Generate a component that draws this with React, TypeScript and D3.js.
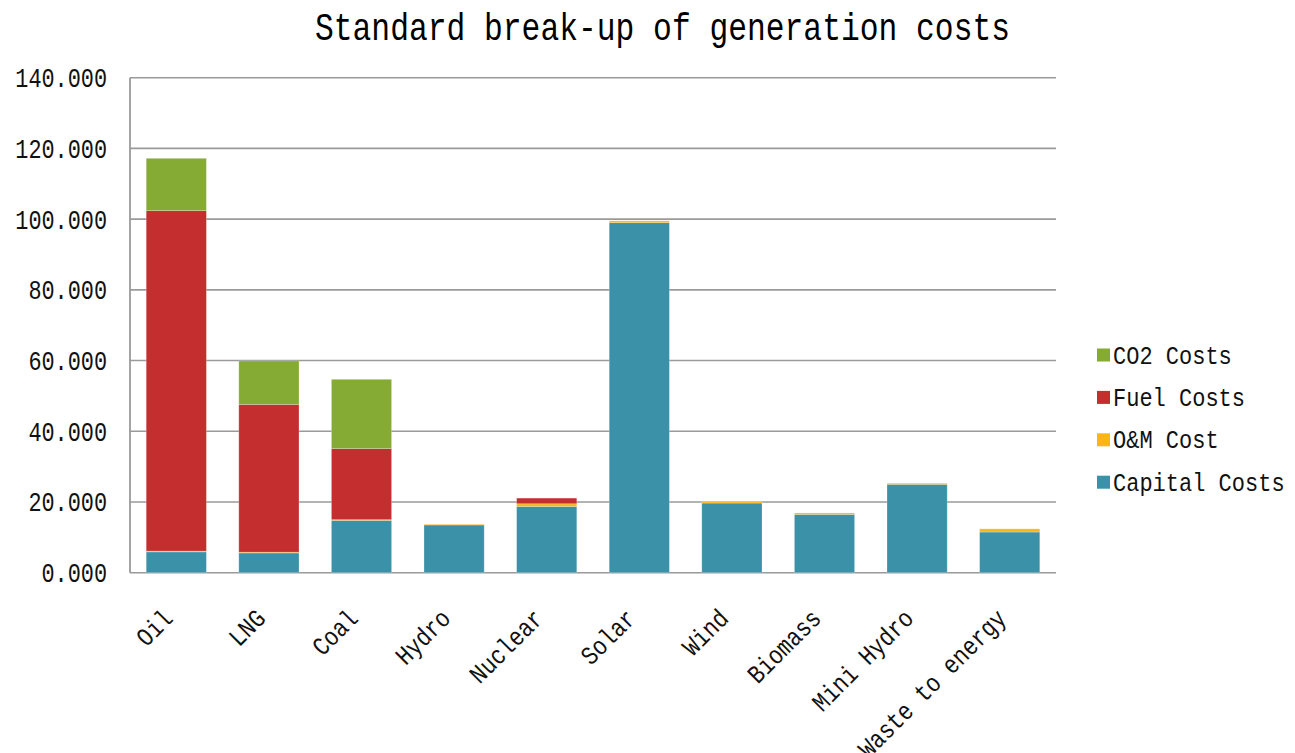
import React from "react";
import * as d3 from "d3";

const categories = ["Oil", "LNG", "Coal", "Hydro", "Nuclear", "Solar", "Wind", "Biomass", "Mini Hydro", "Waste to energy"];
const capitalCosts = [5.9, 5.6, 14.8, 13.5, 18.75, 99.0, 19.7, 16.5, 25.0, 11.5];
const omCost = [0.2, 0.2, 0.2, 0.2, 0.75, 0.5, 0.4, 0.4, 0.3, 0.9];
const fuelCosts = [96.3, 41.8, 20.1, 0, 1.6, 0, 0, 0, 0, 0];
const co2Costs = [14.8, 12.3, 19.6, 0, 0, 0, 0, 0, 0, 0];
const yTicks = [0, 20, 40, 60, 80, 100, 120, 140];

const seriesKeys = ["Capital Costs", "O&M Cost", "Fuel Costs", "CO2 Costs"];
const seriesColors: Record<string, string> = {
  "Capital Costs": "#3A91A8",
  "O&M Cost": "#FBB515",
  "Fuel Costs": "#C42E2F",
  "CO2 Costs": "#86AB35",
};
const legendOrder = ["CO2 Costs", "Fuel Costs", "O&M Cost", "Capital Costs"];

const FONT = "'Liberation Mono', 'DejaVu Sans Mono', monospace";

export default function App() {
  const width = 1295;
  const height = 753;
  const left = 130;
  const right = 1056;
  const top = 77.7;
  const bottom = 572.7;

  const rows = categories.map((c, i) => ({
    category: c,
    "Capital Costs": capitalCosts[i],
    "O&M Cost": omCost[i],
    "Fuel Costs": fuelCosts[i],
    "CO2 Costs": co2Costs[i],
  }));

  const x = d3.scaleBand<string>().domain(categories).range([left, right]).paddingInner(0.35).paddingOuter(0.175);
  const y = d3.scaleLinear().domain([0, 140]).range([bottom, top]);
  const stacked = d3.stack<any>().keys(seriesKeys)(rows);
  const fmt = d3.format(".3f");

  const charW = 13.1;

  return (
    <svg width={width} height={height} style={{ position: "absolute", left: 0, top: 0, background: "#fff" }}>
      <text
        x={662.5}
        y={40}
        textAnchor="middle"
        fontFamily={FONT}
        fontSize={39}
        textLength={695}
        lengthAdjust="spacingAndGlyphs"
        fill="#000"
      >
        Standard break-up of generation costs
      </text>

      {yTicks.map((t) => (
        <g key={t}>
          <line x1={left} x2={right} y1={y(t)} y2={y(t)} stroke="#9a9a9a" strokeWidth={1.6} />
          <text
            x={107}
            y={y(t) + 9.5}
            textAnchor="end"
            fontFamily={FONT}
            fontSize={27}
            textLength={fmt(t).length * charW}
            lengthAdjust="spacingAndGlyphs"
            fill="#111"
          >
            {fmt(t)}
          </text>
        </g>
      ))}
      <line x1={left} x2={left} y1={top} y2={bottom} stroke="#9a9a9a" strokeWidth={1.8} />

      {stacked.map((s) => (
        <g key={s.key}>
          {s.map((d, i) =>
            d[1] - d[0] > 0 ? (
              <rect
                key={i}
                x={x(categories[i])}
                width={x.bandwidth()}
                y={y(d[1])}
                height={y(d[0]) - y(d[1])}
                fill={seriesColors[s.key]}
                stroke="rgba(255,255,255,0.3)"
                strokeWidth={0.8}
              />
            ) : null
          )}
        </g>
      ))}

      {categories.map((c) => {
        const px = (x(c) as number) + x.bandwidth() / 2 - 2;
        const py = 620;
        return (
          <text
            key={c}
            transform={`translate(${px},${py}) rotate(-45)`}
            textAnchor="end"
            fontFamily={FONT}
            fontSize={26}
            textLength={c.length * charW}
            lengthAdjust="spacingAndGlyphs"
            fill="#111"
          >
            {c}
          </text>
        );
      })}

      {legendOrder.map((k, i) => {
        const cy = 355 + i * 42.4;
        return (
          <g key={k}>
            <rect x={1097} y={cy - 6.5} width={13} height={13} fill={seriesColors[k]} />
            <text
              x={1113}
              y={cy + 8.5}
              fontFamily={FONT}
              fontSize={25}
              textLength={k.length * 13.2}
              lengthAdjust="spacingAndGlyphs"
              fill="#111"
            >
              {k}
            </text>
          </g>
        );
      })}
    </svg>
  );
}
